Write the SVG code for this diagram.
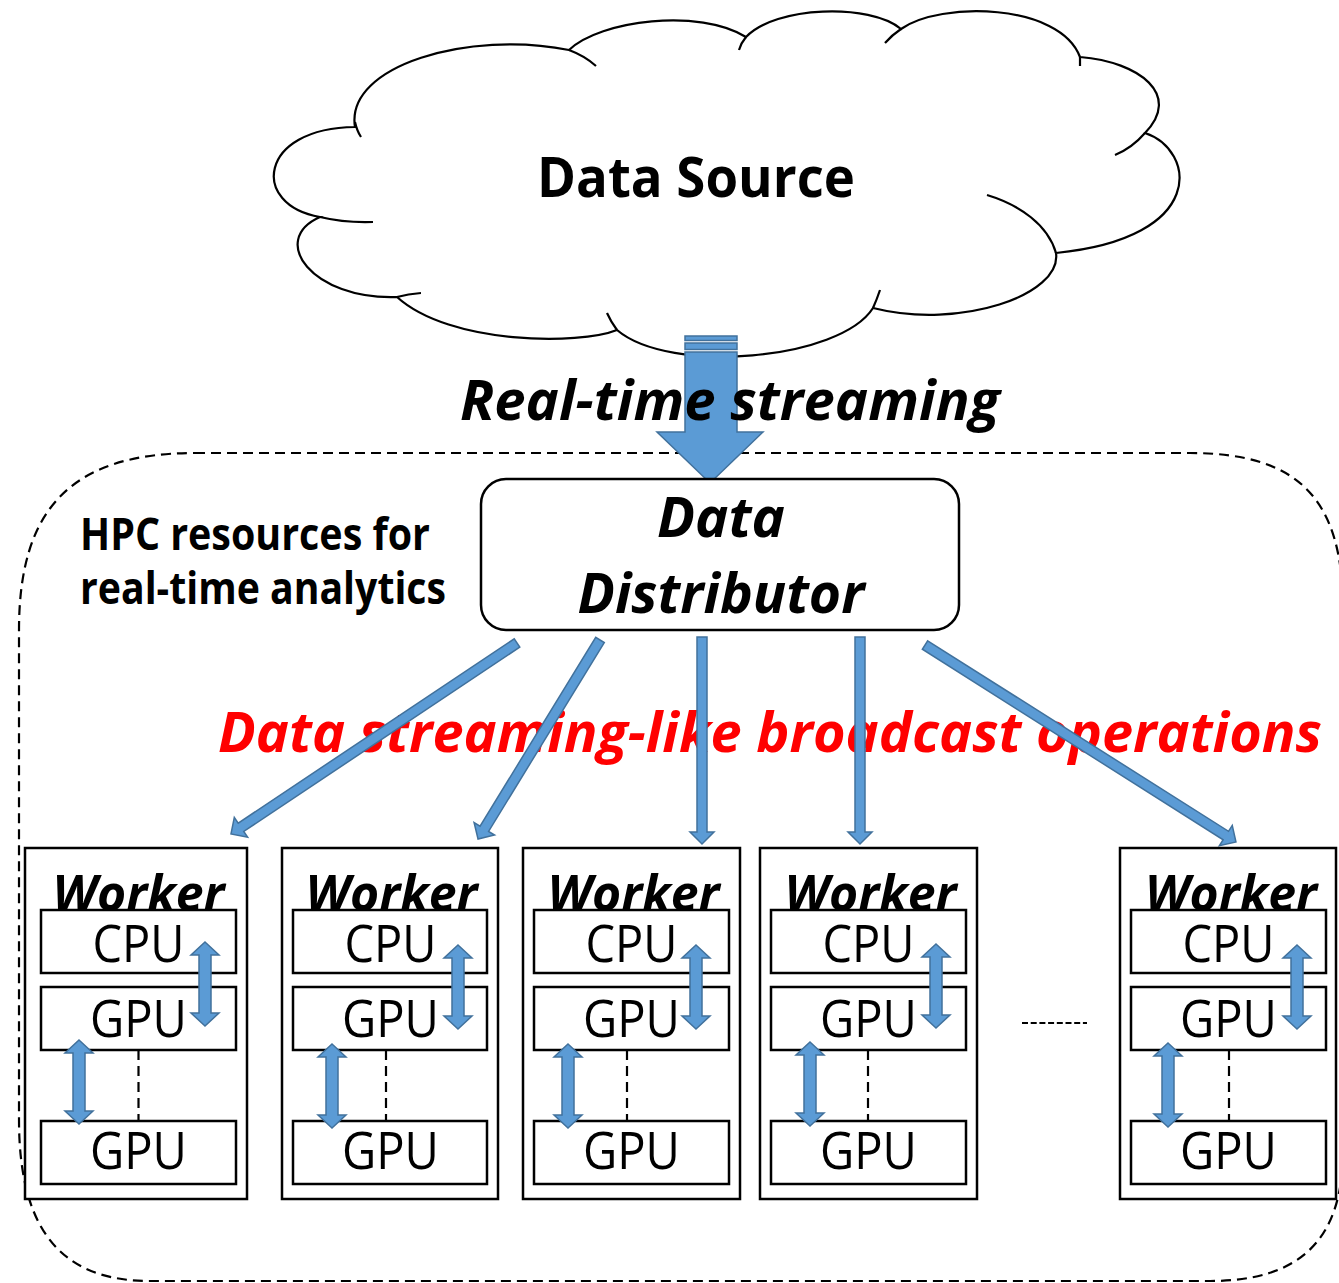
<svg xmlns="http://www.w3.org/2000/svg" xmlns:xlink="http://www.w3.org/1999/xlink" width="1339" height="1283" viewBox="0 0 1339 1283">
<style>
  .ln { fill: none; stroke: #000; stroke-width: 2.5; }
  .box { fill: #fff; stroke: #000; stroke-width: 2.5; }
  .dash { fill: none; stroke: #000; stroke-width: 2.2; stroke-dasharray: 10 6; }
  .blue { fill: #5B9BD5; stroke: #41719C; stroke-width: 1.5; stroke-linejoin: miter; }
  .t { font-family: "Open Sans", "Liberation Sans", sans-serif; fill: #000; }
  .b { font-weight: bold; }
  .bi { font-weight: bold; font-style: italic; }
  .red { fill: #FF0000; }
</style>
<defs>
  <path id="dbl" class="blue" d="M0,0 L14,13 L6,13 L6,71 L14,71 L0,84 L-14,71 L-6,71 L-6,13 L-14,13 Z"/>
</defs>
<rect width="1339" height="1283" fill="#fff"/>

<g id="hpc-region">
  <path class="dash" d="M195,453 L1190,453 C1300,453 1343,500 1343,610 L1343,1150 C1343,1240 1300,1281 1210,1281 L150,1281 C70,1281 19,1240 19,1120 L19,630 C19,510 70,453 195,453 Z"/>
  <text class="t b" x="80" y="550" font-size="44" textLength="350" lengthAdjust="spacingAndGlyphs">HPC resources for</text>
  <text class="t b" x="80" y="604" font-size="44" textLength="366" lengthAdjust="spacingAndGlyphs">real-time analytics</text>
</g>

<g id="data-source">
  <path fill="#fff" stroke="#000" stroke-width="2.2" d="M355,127 C345,65 470,30 569,50 C600,20 700,8 746,37 C775,6 870,3 901,29 C940,1 1060,3 1080,57 C1140,62 1182,95 1145,133 C1196,150 1208,238 1056,253 C1062,295 960,330 873,308 C840,360 670,375 617,330 C580,345 450,345 397,297 C312,300 268,240 320,217 C250,205 258,128 355,127 Z"/>
  <path fill="none" stroke="#000" stroke-width="2.2" d="M355,122 Q357,131 361,137 M569,50 Q585,56 596,66 M746,37 Q741,43 739,50 M901,29 Q892,35 885,43 M1080,57 L1080,66 M1145,133 Q1132,148 1115,155 M987,195 C1020,205 1048,225 1056,253 M873,308 Q877,299 880,290 M617,330 Q611,322 607,313 M397,297 Q408,294 421,293 M320,217 Q345,223 373,222"/>
  <text class="t b" x="696" y="197" font-size="55" text-anchor="middle" textLength="318" lengthAdjust="spacingAndGlyphs">Data Source</text>
</g>

<g id="stream-arrow">
  <rect class="blue" x="685" y="336" width="52" height="4.5"/>
  <rect class="blue" x="685" y="343" width="52" height="6.5"/>
  <path class="blue" d="M685,352 L737,352 L737,432 L763,432 L710,483 L657,432 L685,432 Z"/>
  <text class="t bi" x="730" y="420" font-size="55" text-anchor="middle" textLength="540" lengthAdjust="spacingAndGlyphs">Real-time streaming</text>
</g>

<g id="data-distributor">
  <rect class="box" x="481" y="479" width="478" height="151" rx="25" ry="25"/>
  <text class="t bi" x="721" y="537" font-size="55" text-anchor="middle" textLength="128" lengthAdjust="spacingAndGlyphs">Data</text>
  <text class="t bi" x="721" y="613" font-size="55" text-anchor="middle" textLength="287" lengthAdjust="spacingAndGlyphs">Distributor</text>
</g>

<text id="broadcast-label" class="t bi red" x="770" y="752" font-size="55" text-anchor="middle" textLength="1104" lengthAdjust="spacingAndGlyphs">Data streaming-like broadcast operations</text>

<g id="connectors">
  <polygon class="blue" transform="translate(517,643) rotate(146.27)" points="0,-5 331.9,-5 331.9,-12 343.9,0 331.9,12 331.9,5 0,5"/>
  <polygon class="blue" transform="translate(600,640) rotate(121.5)" points="0,-5 221.4,-5 221.4,-12 233.4,0 221.4,12 221.4,5 0,5"/>
  <polygon class="blue" transform="translate(702,637) rotate(90)" points="0,-5 195,-5 195,-12 207,0 195,12 195,5 0,5"/>
  <polygon class="blue" transform="translate(860,637) rotate(90)" points="0,-5 195,-5 195,-12 207,0 195,12 195,5 0,5"/>
  <polygon class="blue" transform="translate(925,645) rotate(32.35)" points="0,-5 356.1,-5 356.1,-12 368.1,0 356.1,12 356.1,5 0,5"/>
  <line x1="1022" y1="1023" x2="1087" y2="1023" stroke="#000" stroke-width="2" stroke-dasharray="6 2.7"/>
</g>

<g id="worker-1">
  <rect class="box" x="25" y="848" width="222" height="351"/>
  <text class="t bi" x="138.5" y="911" font-size="51" text-anchor="middle" textLength="172" lengthAdjust="spacingAndGlyphs">Worker</text>
  <g transform="translate(41,0)">
    <rect class="box" x="0" y="910" width="195" height="63"/>
    <rect class="box" x="0" y="987" width="195" height="63"/>
    <rect class="box" x="0" y="1121" width="195" height="63"/>
    <line class="dash" x1="97.5" y1="1050" x2="97.5" y2="1121"/>
    <text class="t" x="97.5" y="962" font-size="51" text-anchor="middle" textLength="92" lengthAdjust="spacingAndGlyphs">CPU</text>
    <text class="t" x="97.5" y="1037" font-size="51" text-anchor="middle" textLength="97" lengthAdjust="spacingAndGlyphs">GPU</text>
    <text class="t" x="97.5" y="1169" font-size="51" text-anchor="middle" textLength="97" lengthAdjust="spacingAndGlyphs">GPU</text>
    <use href="#dbl" xlink:href="#dbl" x="164" y="942"/>
    <use href="#dbl" xlink:href="#dbl" x="38" y="1040"/>
  </g>
</g>

<g id="worker-2">
  <rect class="box" x="282" y="848" width="216" height="351"/>
  <text class="t bi" x="391.5" y="911" font-size="51" text-anchor="middle" textLength="172" lengthAdjust="spacingAndGlyphs">Worker</text>
  <g transform="translate(293,0)">
    <rect class="box" x="0" y="910" width="194" height="63"/>
    <rect class="box" x="0" y="987" width="194" height="63"/>
    <rect class="box" x="0" y="1121" width="194" height="63"/>
    <line class="dash" x1="93" y1="1050" x2="93" y2="1121"/>
    <text class="t" x="97.5" y="962" font-size="51" text-anchor="middle" textLength="92" lengthAdjust="spacingAndGlyphs">CPU</text>
    <text class="t" x="97.5" y="1037" font-size="51" text-anchor="middle" textLength="97" lengthAdjust="spacingAndGlyphs">GPU</text>
    <text class="t" x="97.5" y="1169" font-size="51" text-anchor="middle" textLength="97" lengthAdjust="spacingAndGlyphs">GPU</text>
    <use href="#dbl" xlink:href="#dbl" x="165" y="945"/>
    <use href="#dbl" xlink:href="#dbl" x="39" y="1044"/>
  </g>
</g>

<g id="worker-3">
  <rect class="box" x="523" y="848" width="217" height="351"/>
  <text class="t bi" x="633.5" y="911" font-size="51" text-anchor="middle" textLength="172" lengthAdjust="spacingAndGlyphs">Worker</text>
  <g transform="translate(534,0)">
    <rect class="box" x="0" y="910" width="195" height="63"/>
    <rect class="box" x="0" y="987" width="195" height="63"/>
    <rect class="box" x="0" y="1121" width="195" height="63"/>
    <line class="dash" x1="93" y1="1050" x2="93" y2="1121"/>
    <text class="t" x="97.5" y="962" font-size="51" text-anchor="middle" textLength="92" lengthAdjust="spacingAndGlyphs">CPU</text>
    <text class="t" x="97.5" y="1037" font-size="51" text-anchor="middle" textLength="97" lengthAdjust="spacingAndGlyphs">GPU</text>
    <text class="t" x="97.5" y="1169" font-size="51" text-anchor="middle" textLength="97" lengthAdjust="spacingAndGlyphs">GPU</text>
    <use href="#dbl" xlink:href="#dbl" x="162" y="945"/>
    <use href="#dbl" xlink:href="#dbl" x="34" y="1044"/>
  </g>
</g>

<g id="worker-4">
  <rect class="box" x="760" y="848" width="217" height="351"/>
  <text class="t bi" x="870.5" y="911" font-size="51" text-anchor="middle" textLength="172" lengthAdjust="spacingAndGlyphs">Worker</text>
  <g transform="translate(771,0)">
    <rect class="box" x="0" y="910" width="195" height="63"/>
    <rect class="box" x="0" y="987" width="195" height="63"/>
    <rect class="box" x="0" y="1121" width="195" height="63"/>
    <line class="dash" x1="97" y1="1050" x2="97" y2="1121"/>
    <text class="t" x="97.5" y="962" font-size="51" text-anchor="middle" textLength="92" lengthAdjust="spacingAndGlyphs">CPU</text>
    <text class="t" x="97.5" y="1037" font-size="51" text-anchor="middle" textLength="97" lengthAdjust="spacingAndGlyphs">GPU</text>
    <text class="t" x="97.5" y="1169" font-size="51" text-anchor="middle" textLength="97" lengthAdjust="spacingAndGlyphs">GPU</text>
    <use href="#dbl" xlink:href="#dbl" x="165" y="944"/>
    <use href="#dbl" xlink:href="#dbl" x="39" y="1042"/>
  </g>
</g>

<g id="worker-5">
  <rect class="box" x="1120" y="848" width="216" height="351"/>
  <text class="t bi" x="1231" y="911" font-size="51" text-anchor="middle" textLength="172" lengthAdjust="spacingAndGlyphs">Worker</text>
  <g transform="translate(1131,0)">
    <rect class="box" x="0" y="910" width="195" height="63"/>
    <rect class="box" x="0" y="987" width="195" height="63"/>
    <rect class="box" x="0" y="1121" width="195" height="63"/>
    <line class="dash" x1="98" y1="1050" x2="98" y2="1121"/>
    <text class="t" x="97.5" y="962" font-size="51" text-anchor="middle" textLength="92" lengthAdjust="spacingAndGlyphs">CPU</text>
    <text class="t" x="97.5" y="1037" font-size="51" text-anchor="middle" textLength="97" lengthAdjust="spacingAndGlyphs">GPU</text>
    <text class="t" x="97.5" y="1169" font-size="51" text-anchor="middle" textLength="97" lengthAdjust="spacingAndGlyphs">GPU</text>
    <use href="#dbl" xlink:href="#dbl" x="166" y="945"/>
    <use href="#dbl" xlink:href="#dbl" x="37" y="1043"/>
  </g>
</g>
</svg>
